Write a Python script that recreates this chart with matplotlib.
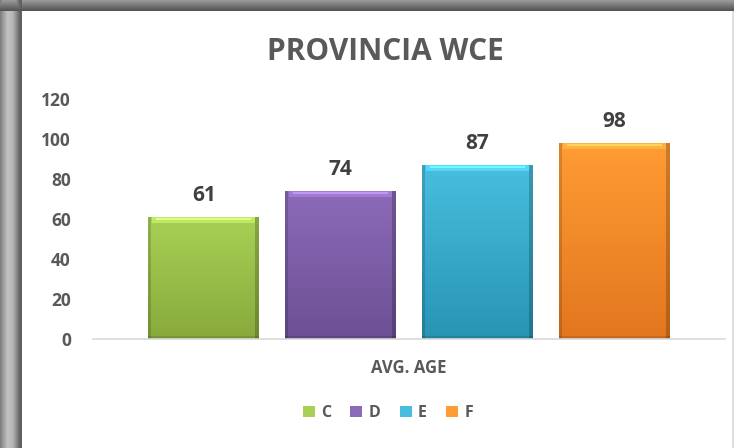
import numpy as np
import matplotlib
matplotlib.use("Agg")
import matplotlib.pyplot as plt
from matplotlib.patches import Patch

plt.rcParams['font.family'] = ['Open Sans', 'DejaVu Sans']

title = "PROVINCIA WCE"
category = "AVG. AGE"
series = ["C", "D", "E", "F"]
values = [61, 74, 87, 98]
yticks = [0, 20, 40, 60, 80, 100, 120]

# (top, bottom) colours of each bar's gradient
top_colors = [(168, 208, 85), (140, 106, 185), (72, 190, 222), (255, 156, 52)]
bottom_colors = [(136, 170, 60), (108, 80, 148), (40, 148, 180), (226, 118, 30)]

W, H = 734, 448
fig = plt.figure(figsize=(W / 100, H / 100), dpi=100)

# grey picture frame along the top and left edges
bg = np.ones((H, W, 3))
top_band = 11
left_band = 22
rows = np.linspace(0.60, 0.33, top_band)
bg[:top_band, :, :] = rows[:, None, None]
prof = np.interp(np.arange(left_band), [0, 3, 7, 12, 16, 19, 21],
                 [0.50, 0.62, 0.76, 0.72, 0.55, 0.40, 0.37])
bg[top_band:, :left_band, :] = prof[None, :, None]
bg[:top_band, :left_band, :] = np.minimum(bg[:top_band, :left_band, :],
                                          prof[None, :, None])
bg[:, -2:, :] = np.minimum(bg[:, -2:, :], 0.88)
bgax = fig.add_axes([0, 0, 1, 1], zorder=-5)
bgax.imshow(bg, aspect='auto', interpolation='bilinear')
bgax.axis('off')

ax = fig.add_axes([93 / W, 1 - 339 / H, (725 - 93) / W, (339 - 99) / H])
ax.patch.set_alpha(0)

x = np.arange(len(series))
width = 0.81
bars = ax.bar(x, values, width=width, color='none', edgecolor='none', zorder=2)

for b, c0, c1, v in zip(bars, top_colors, bottom_colors, values):
    x0, w, h = b.get_x(), b.get_width(), b.get_height()
    nr = int(round(h * 2))
    nc = 111
    t = np.linspace(0, 1, nr)[:, None]
    c0a = np.array(c0) / 255.0
    c1a = np.array(c1) / 255.0
    img = (c0a[None, None, :] * (1 - t[..., None]) + c1a[None, None, :] * t[..., None])
    img = np.repeat(img, nc, axis=1)
    # bevel: light top strip, darker side edges
    img[:6, 4:-4] = np.clip(img[:6, 4:-4] * 1.08 + 0.04, 0, 1)
    img[1:3, 8:-8] = np.clip(img[1:3, 8:-8] * 1.10 + 0.06, 0, 1)
    img[:, :3] *= 0.85
    img[:, -4:] *= 0.80
    img[-3:, :] *= 0.88
    ax.imshow(img, extent=(x0, x0 + w, 0, h), aspect='auto', zorder=2,
              interpolation='bilinear')
    ax.annotate(str(v), (x0 + w / 2, h), xytext=(0, 8), textcoords='offset points',
                ha='center', va='bottom', fontsize=15, fontweight='bold',
                color='#404040')

ax.set_xlim(-0.81, len(series) - 1 + 0.81)
ax.set_ylim(0, 120)
ax.set_yticks(yticks)
ax.set_yticklabels([str(t) for t in yticks], fontsize=12.5, fontweight='bold',
                   color='#595959')
ax.tick_params(axis='y', length=0, pad=16)
ax.set_xticks([])
for s in ['top', 'right', 'left']:
    ax.spines[s].set_visible(False)
ax.spines['bottom'].set_color('#d9d9d9')
ax.spines['bottom'].set_linewidth(1.2)

fig.text(385 / W, 1 - 52 / H, title, ha='center', va='center', fontsize=21.5,
         fontweight='bold', color='#595959')
fig.text(409 / W, 1 - 368 / H, category, ha='center', va='center', fontsize=12,
         fontweight='bold', color='#595959')

handles = [Patch(facecolor=np.array(c) / 255.0, edgecolor='none') for c in top_colors]
leg = fig.legend(handles, series, loc='center', bbox_to_anchor=(388 / W, 1 - 413 / H),
                 ncol=4, frameon=False, handlelength=0.75, handleheight=0.75,
                 handletextpad=0.4, columnspacing=1.2,
                 prop={'weight': 'bold', 'size': 11.5})
for t in leg.get_texts():
    t.set_color('#595959')

fig.savefig("out.png", dpi=100)
